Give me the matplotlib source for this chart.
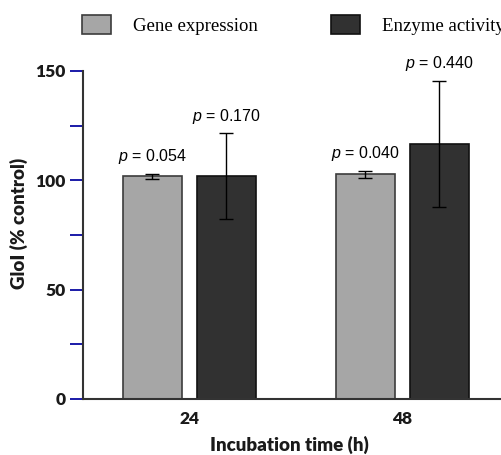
import matplotlib
matplotlib.use("Agg")
import matplotlib.pyplot as plt
import numpy as np

# donnees
temps = ["24", "48"]
series = ["Gene expression", "Enzyme activity"]
gene_moy = [101.8, 102.7]
gene_err = [1.1, 1.7]
enz_moy = [101.8, 116.8]
enz_err = [19.7, 28.8]
p_gene = ["0.054", "0.040"]
p_enz = ["0.170", "0.440"]

plt.rcParams['mathtext.fontset'] = 'custom'
plt.rcParams['mathtext.it'] = 'Liberation Sans:italic'
plt.rcParams['mathtext.rm'] = 'Liberation Sans'

fig = plt.figure(figsize=(5.02, 4.55), dpi=100)
ax = fig.add_axes([0.1653, 0.1231, 0.8347, 0.7209])

x = np.arange(len(temps))
larg = 0.278
dec = 0.174

b1 = ax.bar(x - dec, gene_moy, larg, color='#a6a6a6', edgecolor='#3c3c3c', linewidth=1.2,
            label=series[0], zorder=2)
b2 = ax.bar(x + dec, enz_moy, larg, color='#313131', edgecolor='#111111', linewidth=1.2,
            label=series[1], zorder=2)
ax.errorbar(x - dec, gene_moy, yerr=gene_err, fmt='none', ecolor='black', elinewidth=1,
            capsize=5.2, capthick=1, zorder=3)
ax.errorbar(x + dec, enz_moy, yerr=enz_err, fmt='none', ecolor='black', elinewidth=1,
            capsize=5.2, capthick=1, zorder=3)

# valeurs p au dessus des barres d'erreur
for xs, moy, err, pv in [(x - dec, gene_moy, gene_err, p_gene), (x + dec, enz_moy, enz_err, p_enz)]:
    for xi, m, e, p in zip(xs, moy, err, pv):
        ax.annotate("$p$ = " + p, xy=(xi, m + e), xytext=(0, 9), textcoords='offset points',
                    ha='center', va='baseline', fontsize=11.5, family='Liberation Sans')

ax.set_xlim(-0.501, 1.47)
ax.set_ylim(0, 150)
ax.set_yticks([0, 50, 100, 150])
ax.set_yticks([25, 75, 125], minor=True)
ax.set_xticks(x)
ax.set_xticklabels(temps)

for s in ['top', 'right']:
    ax.spines[s].set_visible(False)
ax.spines['left'].set_color('#333333')
ax.spines['bottom'].set_color('#333333')
ax.spines['left'].set_linewidth(1.5)
ax.spines['bottom'].set_linewidth(1.5)

ax.tick_params(axis='y', which='both', direction='out', length=9.4, width=1.4,
               color='#1a1aa8', pad=3)
ax.tick_params(axis='x', length=0, pad=9)
for t in ax.get_yticklabels() + ax.get_xticklabels():
    t.set_fontfamily('Lato')
    t.set_fontweight('heavy')
    t.set_fontsize(12.5)
    t.set_color('#1a1a1a')

ax.set_xlabel("Incubation time (h)", fontsize=13.5, fontweight='heavy', family='Lato', color='#1a1a1a')
ax.set_ylabel("GloI (% control)", fontsize=13.5, fontweight='heavy', family='Lato', color='#1a1a1a')
ax.xaxis.set_label_coords(0.4917, -0.113)
ax.yaxis.set_label_coords(-0.132, 0.534)

fig.legend(handles=[b1, b2], loc='upper left', bbox_to_anchor=(82 / 502, 1 - 15 / 455),
           ncol=2, frameon=False, borderpad=0, borderaxespad=0,
           prop={'family': 'Liberation Serif', 'size': 13.5},
           handlelength=1.55, handleheight=1.17, handletextpad=1.17, columnspacing=3.9)

fig.savefig("out.png", dpi=100)
